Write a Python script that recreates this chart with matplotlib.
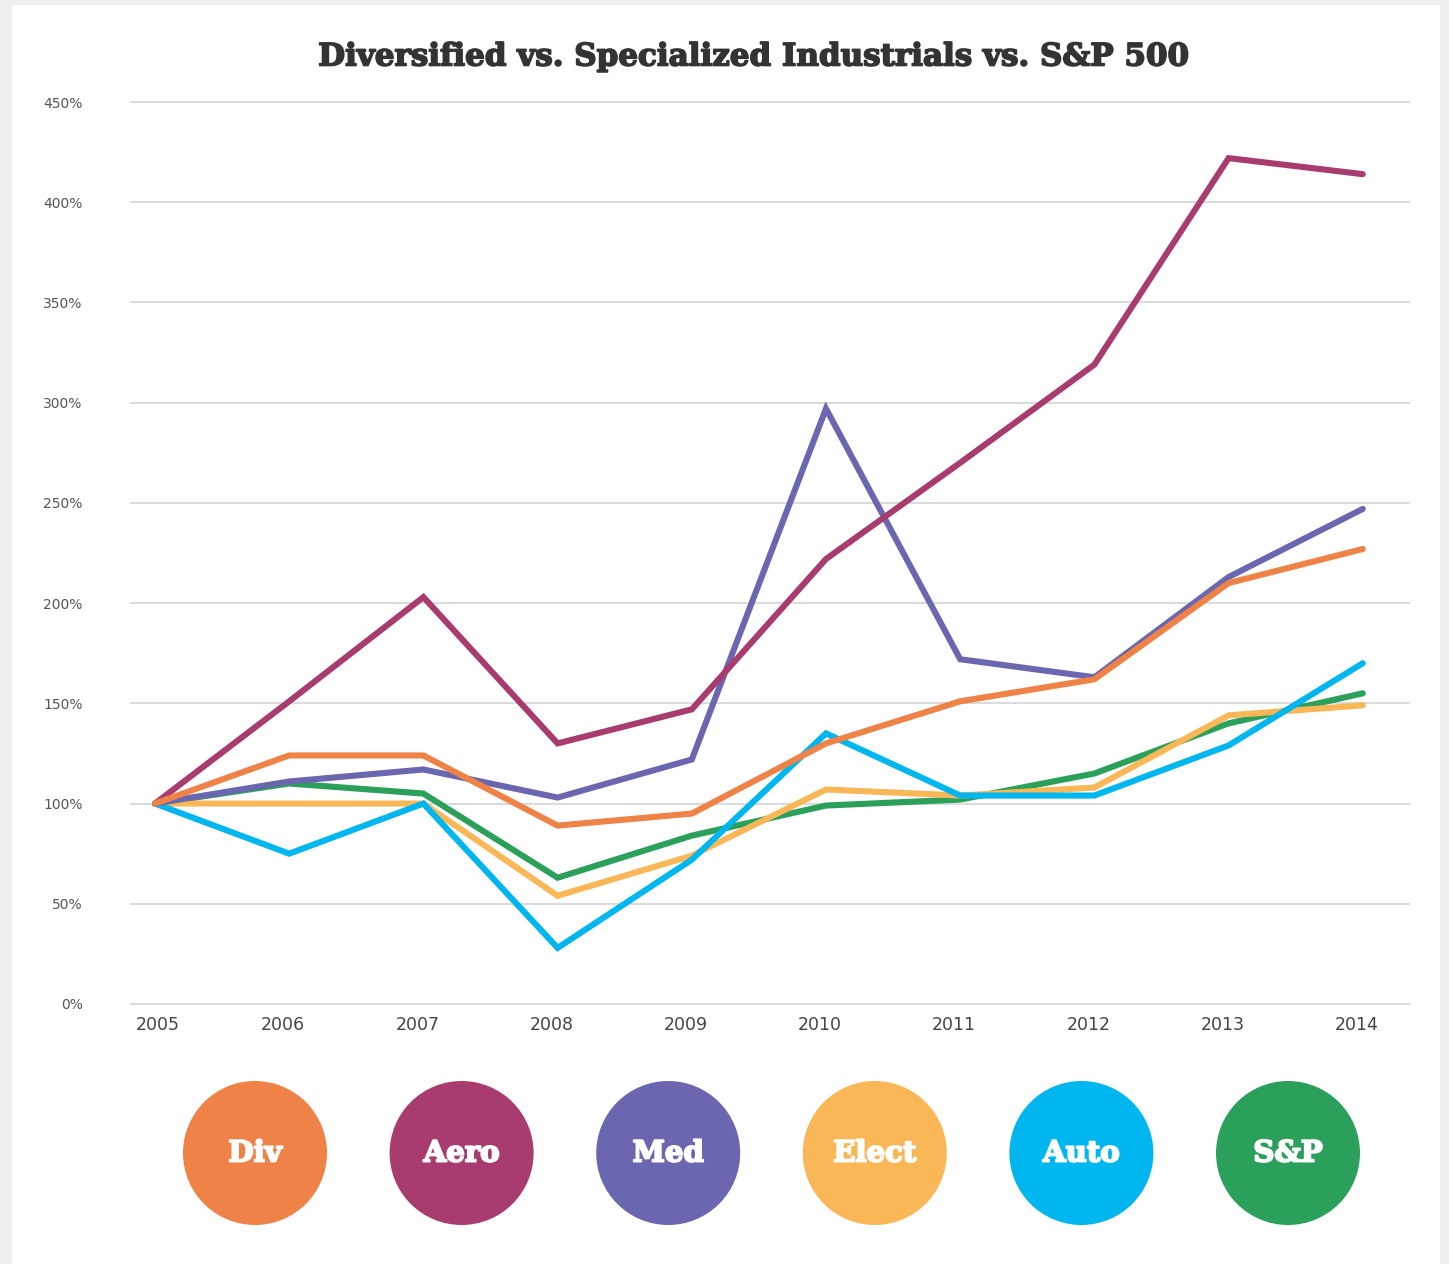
import matplotlib
matplotlib.use("Agg")
import matplotlib.pyplot as plt
import matplotlib.patheffects as pe
from matplotlib.patches import Circle, Rectangle

years = ["2005", "2006", "2007", "2008", "2009", "2010", "2011", "2012", "2013", "2014"]

div = [100, 124, 124, 89, 95, 130, 151, 162, 210, 227]
aero = [100, 151, 203, 130, 147, 222, 270, 319, 422, 414]
med = [100, 111, 117, 103, 122, 297, 172, 163, 213, 247]
elect = [100, 100, 100, 54, 74, 107, 104, 108, 144, 149]
auto = [100, 75, 100, 28, 72, 135, 104, 104, 129, 170]
snp = [100, 110, 105, 63, 84, 99, 102, 115, 140, 155]

names = ["Div", "Aero", "Med", "Elect", "Auto", "S&P"]
colors = ["#EF8247", "#A83C6F", "#6A66AF", "#F9B758", "#00B6EE", "#2BA05A"]
series = [div, aero, med, elect, auto, snp]
# drawing order, bottom to top
order = [5, 3, 4, 2, 1, 0]

W, H = 1449, 1264
fig = plt.figure(figsize=(W / 100, H / 100), dpi=100, facecolor="#EEF0F0")

# white card behind everything
bg = fig.add_axes([0, 0, 1, 1], zorder=-1)
bg.set_xlim(0, W)
bg.set_ylim(H, 0)
bg.axis("off")
bg.add_patch(Rectangle((12, 5), 1428, H, facecolor="white", edgecolor="none"))

# main plot area, in pixels
px_per = 2.004
left, right = 130, 1410
top, bottom = 102 - px_per, 1004 + px_per
ax = fig.add_axes([left / W, 1 - bottom / H, (right - left) / W, (bottom - top) / H])
ax.set_facecolor("none")

x = list(range(len(years)))
for i in order:
    ax.plot(x, series[i], color=colors[i], lw=4.4, solid_capstyle="round",
            solid_joinstyle="miter", zorder=3 + order.index(i))

step = 134.2
x0 = (left - 155) / step
ax.set_xlim(x0, x0 + (right - left) / step)
ax.set_ylim(-1, 451)

ax.set_yticks(range(0, 451, 50))
ax.set_yticklabels([f"{v}%" for v in range(0, 451, 50)], fontsize=10, color="#555555")
# year labels sit a little left of the data points in the original
ax.set_xticks([])
ax.set_xticks([i + (0.02 if i == 0 else -0.045) for i in x], minor=True)
ax.set_xticklabels(years, minor=True, fontsize=12.5, color="#444444")
ax.tick_params(axis="y", length=0, pad=34)
ax.tick_params(axis="x", which="both", length=0, pad=7)
ax.grid(axis="y", color="#DADADA", lw=1.4)
for s in ax.spines.values():
    s.set_visible(False)

fig.text(754 / W, 1 - 57 / H, "Diversified vs. Specialized Industrials vs. S&P 500",
         ha="center", va="center", fontsize=22.3, fontweight="bold",
         family="DejaVu Serif", color="#333333",
         path_effects=[pe.withStroke(linewidth=1.2, foreground="#333333")])

# circle legend
leg = fig.add_axes([0, 0, 1, 1], zorder=5)
leg.set_xlim(0, W)
leg.set_ylim(H, 0)
leg.axis("off")
for k, (name, c) in enumerate(zip(names, colors)):
    cx = 255 + k * 206.6
    leg.add_patch(Circle((cx, 1153), 72, facecolor=c, edgecolor="none"))
    leg.text(cx, 1153, name, ha="center", va="center", fontsize=21,
             fontweight="bold", family="DejaVu Serif", color="white",
             path_effects=[pe.withStroke(linewidth=1.4, foreground="white")])

fig.savefig("out.png", dpi=100, facecolor=fig.get_facecolor())
